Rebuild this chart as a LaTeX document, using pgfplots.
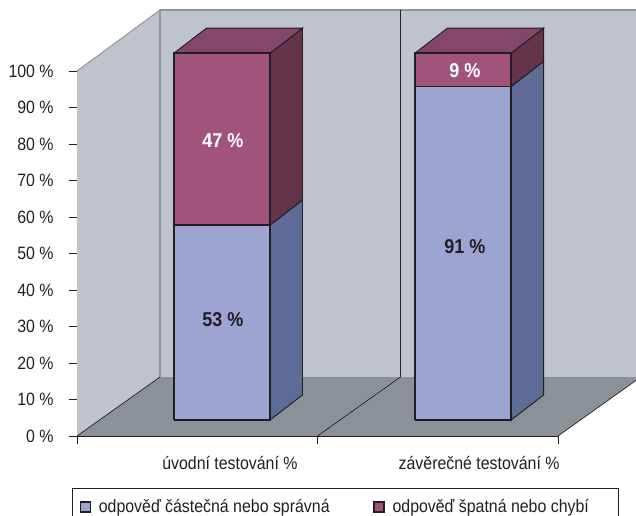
\documentclass[border=0pt]{standalone}
\usepackage{pgfplots}
\pgfplotsset{compat=1.18}
\usepackage{fontspec}
\setmainfont[FakeStretch=0.89]{Liberation Sans}
\newfontfamily\vlf[FakeStretch=0.9]{Liberation Sans Bold}
\definecolor{wall}{HTML}{BEC3CC}
\definecolor{floorc}{HTML}{8A9298}
\definecolor{edge}{HTML}{8C949C}
\definecolor{ink}{HTML}{231F20}
\definecolor{bluef}{HTML}{9DA4D2}
\definecolor{blues}{HTML}{5D6B96}
\definecolor{purf}{HTML}{A0547A}
\definecolor{purt}{HTML}{84476A}
\definecolor{purs}{HTML}{63344A}
\begin{document}
\begin{tikzpicture}[x=0.75pt,y=0.75pt]
\useasboundingbox (0,0) rectangle (636,516);
\begin{axis}[
  at={(57.75pt,60pt)},anchor=south west,
  scale only axis,width=360.75pt,height=273.75pt,
  xmin=0,xmax=2,ymin=0,ymax=100,clip=false,
  axis x line=bottom,axis y line=left,
  axis line style={-,ink,line width=0.6pt},
  tick style={ink,line width=0.6pt},
  major tick length=6pt,
  tick align=outside,
  ytick={0,10,...,100},
  yticklabels={0 \%,10 \%,20 \%,30 \%,40 \%,50 \%,60 \%,70 \%,80 \%,90 \%,100 \%},
  yticklabel style={font=\fontsize{13.4}{15}\selectfont,text=ink,xshift=-8pt},
  xtick={0,1,2},xticklabels={,,},
  extra x ticks={0.636,1.672},
  extra x tick labels={úvodní testování \%,závěrečné testování \%},
  extra x tick style={major tick length=0pt,
    xticklabel style={font=\fontsize{13.4}{15}\selectfont,text=ink,yshift=-12pt}},
  legend style={draw=none,fill=none,at={(axis cs:-0.007,-15.85)},anchor=north west,
    font=\fontsize{13.4}{15}\selectfont,text=ink,legend columns=2,
    /tikz/every odd column/.append style={column sep=3.75pt},
    /tikz/every even column/.append style={column sep=30.75pt}},
  legend cell align=left,
]
% walls and floor
\addplot[fill=wall,draw=none,forget plot] coordinates {(0,100)(0.345,116.7)(0.345,16.16)(0,0)};
\addplot[fill=wall,draw=none,forget plot] coordinates {(0.345,16.16)(0.345,116.7)(2.324,116.7)(2.324,16.16)};
\addplot[fill=floorc,draw=none,forget plot] coordinates {(0,0)(2,0)(2.324,15.2)(2.324,16.16)(0.345,16.16)};
\addplot[edge,line width=0.7pt,forget plot] coordinates {(0,100)(0.345,116.7)};
\addplot[edge,line width=1.1pt,forget plot] coordinates {(0.345,16.16)(0.345,116.7)(2.324,116.7)};
\addplot[ink,line width=0.5pt,forget plot] coordinates {(0,0)(0.345,16.16)};
\addplot[ink,line width=0.5pt,forget plot] coordinates {(1,0)(1.345,16.16)(1.345,116.7)};
\addplot[ink,line width=0.5pt,forget plot] coordinates {(2,0)(2.324,15.2)};
% bar 1
\addplot[fill=blues,draw=ink,line width=0.7pt,forget plot] coordinates {(0.8025,4.38)(0.9375,11.23)(0.9375,64.63)(0.8025,57.78)(0.8025,4.38)};
\addplot[fill=purs,draw=ink,line width=0.7pt,forget plot] coordinates {(0.8025,57.78)(0.9375,64.63)(0.9375,111.73)(0.8025,104.88)(0.8025,57.78)};
\addplot[fill=purt,draw=ink,line width=0.7pt,forget plot] coordinates {(0.403,104.88)(0.538,111.73)(0.9375,111.73)(0.8025,104.88)(0.403,104.88)};
\addplot[fill=bluef,draw=ink,line width=1.1pt,forget plot] coordinates {(0.403,4.38)(0.8025,4.38)(0.8025,57.78)(0.403,57.78)(0.403,4.38)};
\addplot[fill=purf,draw=ink,line width=1.1pt,forget plot] coordinates {(0.403,57.78)(0.8025,57.78)(0.8025,104.88)(0.403,104.88)(0.403,57.78)};
% bar 2
\addplot[fill=blues,draw=ink,line width=0.7pt,forget plot] coordinates {(1.805,4.38)(1.94,11.23)(1.94,102.63)(1.805,95.78)(1.805,4.38)};
\addplot[fill=purs,draw=ink,line width=0.7pt,forget plot] coordinates {(1.805,95.78)(1.94,102.63)(1.94,111.73)(1.805,104.88)(1.805,95.78)};
\addplot[fill=purt,draw=ink,line width=0.7pt,forget plot] coordinates {(1.405,104.88)(1.54,111.73)(1.94,111.73)(1.805,104.88)(1.405,104.88)};
\addplot[fill=bluef,draw=ink,line width=1.1pt,forget plot] coordinates {(1.405,4.38)(1.805,4.38)(1.805,95.78)(1.405,95.78)(1.405,4.38)};
\addplot[fill=purf,draw=ink,line width=1.1pt,forget plot] coordinates {(1.405,95.78)(1.805,95.78)(1.805,104.88)(1.405,104.88)(1.405,95.78)};
% legend
\addlegendimage{legend image code/.code={\draw[fill=bluef,draw=ink,line width=1.1pt] (0pt,-3.8pt) rectangle (7.6pt,3.8pt);}}
\addlegendentry{odpověď částečná nebo správná}
\addlegendimage{legend image code/.code={\draw[fill=purf,draw=ink,line width=1.1pt] (-3.75pt,-3.8pt) rectangle (3.85pt,3.8pt);}}
\addlegendentry{odpověď špatná nebo chybí}
\draw[ink,line width=0.7pt] (axis cs:-0.02,-14.5) rectangle (axis cs:2.25,-25);
\def\vl{\fontsize{15}{17}\vlf}
\node[font=\vl,text=ink] at (axis cs:0.607,32) {53 \%};
\node[font=\vl,text=white] at (axis cs:0.607,80.8) {47 \%};
\node[font=\vl,text=ink] at (axis cs:1.613,52) {91 \%};
\node[font=\vl,text=white] at (axis cs:1.613,100.2) {9 \%};
\end{axis}
\end{tikzpicture}
\end{document}
